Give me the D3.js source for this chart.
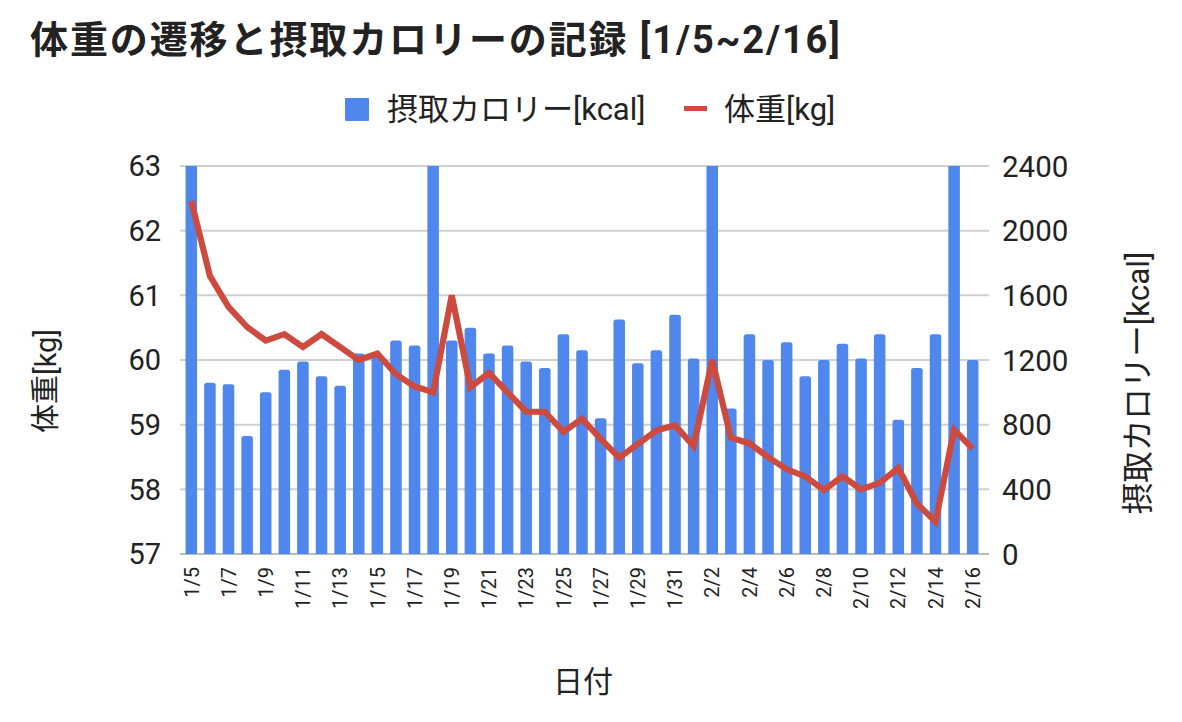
<!DOCTYPE html>
<html>
<head>
<meta charset="utf-8">
<script src="https://cdn.jsdelivr.net/npm/d3@7"></script>
<style>
  body { margin: 0; background: #fff; }
  text { font-family: Roboto, 'Noto Sans CJK JP', sans-serif; fill: #222; }
</style>
</head>
<body>
<script>
'use strict'

var dates = ['1/5','1/6','1/7','1/8','1/9','1/10','1/11','1/12','1/13','1/14','1/15','1/16','1/17','1/18',
  '1/19','1/20','1/21','1/22','1/23','1/24','1/25','1/26','1/27','1/28','1/29','1/30','1/31','2/1',
  '2/2','2/3','2/4','2/5','2/6','2/7','2/8','2/9','2/10','2/11','2/12','2/13','2/14','2/15','2/16']
// kcal (values above 2400 run off the top of the axis)
var kcal = [2500,1060,1050,730,1000,1140,1190,1100,1040,1240,1230,1320,1290,2500,
  1320,1400,1240,1290,1190,1150,1360,1260,840,1450,1180,1260,1480,1210,
  2500,900,1360,1200,1310,1100,1200,1300,1210,1360,830,1150,1360,2500,1200]
var weight = [62.46,61.3,60.82,60.51,60.3,60.4,60.2,60.4,60.2,60.0,60.1,59.78,59.59,59.5,
  61.0,59.58,59.8,59.5,59.2,59.2,58.89,59.09,58.78,58.49,58.7,58.91,58.99,58.67,
  60.0,58.8,58.71,58.5,58.31,58.2,57.99,58.2,58.0,58.1,58.33,57.78,57.5,58.92,58.63]
var leftTicks = [57,58,59,60,61,62,63]
var rightTicks = [0,400,800,1200,1600,2000,2400]

var W = 1182, H = 722
  , m = { l: 182, r: 982, t: 166, b: 554 }
  , blue = '#5087ec', red = '#cc4a3e'

var svg = d3.select('body').append('svg').attr('width', W).attr('height', H)

var x = d3.scaleBand().domain(dates).range([m.l, m.r]).paddingInner(0.38).paddingOuter(0.19)
  , yL = d3.scaleLinear().domain([57, 63]).range([m.b, m.t])
  , yR = d3.scaleLinear().domain([0, 2400]).range([m.b, m.t]).clamp(true)

// gridlines
svg.append('g').selectAll('line').data(leftTicks).enter().append('line')
  .attr('x1', 180).attr('x2', 989)
  .attr('y1', function(d){ return yL(d) }).attr('y2', function(d){ return yL(d) })
  .attr('stroke', function(d){ return d === 57 ? '#bbb' : '#d0d0d0' }).attr('stroke-width', 2)

// bars with rounded tops
var r = 2.5
svg.append('g').selectAll('path').data(kcal).enter().append('path')
  .attr('fill', blue)
  .attr('d', function(d, i){
    var x0 = x(dates[i]), w = x.bandwidth(), y0 = yR(d), rr = d > 2400 ? 0 : r
    return 'M' + x0 + ',' + m.b + 'V' + (y0 + rr) + 'Q' + x0 + ',' + y0 + ' ' + (x0 + rr) + ',' + y0 +
      'H' + (x0 + w - rr) + 'Q' + (x0 + w) + ',' + y0 + ' ' + (x0 + w) + ',' + (y0 + rr) + 'V' + m.b + 'Z'
  })

// weight line
var line = d3.line()
  .x(function(d, i){ return x(dates[i]) + x.bandwidth() / 2 })
  .y(function(d){ return yL(d) })
svg.append('path').datum(weight).attr('d', line)
  .attr('fill', 'none').attr('stroke', red).attr('stroke-width', 6.2).attr('stroke-linejoin', 'miter')

// left axis labels
svg.append('g').selectAll('text').data(leftTicks).enter().append('text')
  .attr('x', 161).attr('y', function(d){ return yL(d) }).attr('dy', '0.36em')
  .attr('text-anchor', 'end').style('font-size', '29px').text(function(d){ return d })

// right axis labels
svg.append('g').selectAll('text').data(rightTicks).enter().append('text')
  .attr('x', 1002).attr('y', function(d){ return yR(d) }).attr('dy', '0.36em')
  .style('font-size', '29.5px').text(function(d){ return d })

// x labels, every other date
svg.append('g').selectAll('text').data(dates.filter(function(d, i){ return i % 2 === 0 })).enter().append('text')
  .attr('transform', function(d){ return 'translate(' + (x(d) + x.bandwidth() / 2) + ',567) rotate(-90)' })
  .attr('dy', '0.36em').attr('text-anchor', 'end').style('font-size', '20px').text(function(d){ return d })

// axis titles
svg.append('text').attr('transform', 'translate(56,381) rotate(-90)').attr('text-anchor', 'middle')
  .style('font-size', '29px').text('体重[kg]')
svg.append('text').attr('transform', 'translate(1149,383) rotate(-90)').attr('text-anchor', 'middle')
  .style('font-size', '31.5px').text('摂取カロリー[kcal]')
svg.append('text').attr('x', 583).attr('y', 692).attr('text-anchor', 'middle')
  .style('font-size', '30px').text('日付')

// title
svg.append('text').attr('x', 30).attr('y', 53).style('font-size', '38px').style('font-weight', 'bold')
  .style('letter-spacing', '1.9px')
  .text('体重の遷移と摂取カロリーの記録 [1/5~2/16]')

// legend
var lg = svg.append('g')
lg.append('rect').attr('x', 345).attr('y', 98).attr('width', 24).attr('height', 23).attr('rx', 1).attr('fill', blue)
lg.append('text').attr('x', 387).attr('y', 120).style('font-size', '31px').text('摂取カロリー[kcal]')
lg.append('line').attr('x1', 684).attr('x2', 707).attr('y1', 108.5).attr('y2', 108.5)
  .attr('stroke', red).attr('stroke-width', 5)
lg.append('text').attr('x', 724).attr('y', 120).style('font-size', '31px').text('体重[kg]')
</script>
</body>
</html>
